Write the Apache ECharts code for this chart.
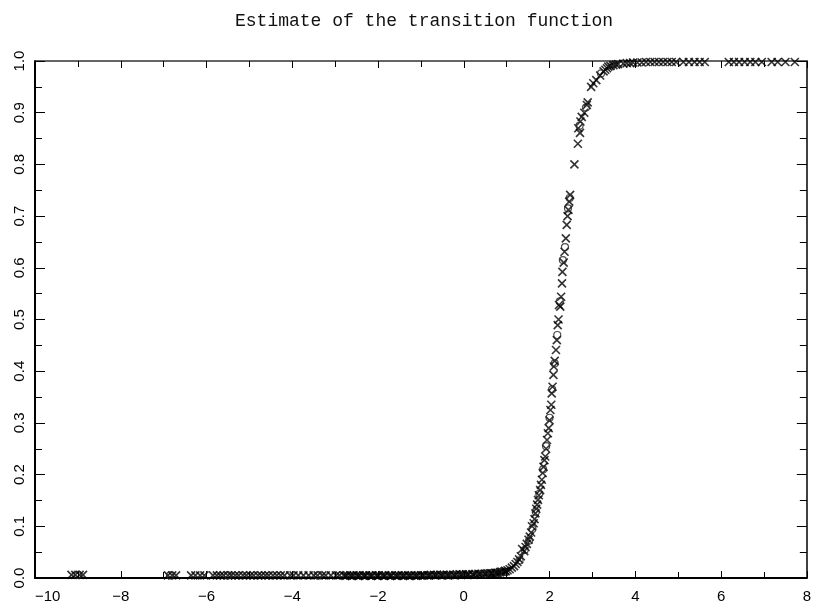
<!DOCTYPE html>
<html>
<head>
<meta charset="utf-8">
<script src="https://cdn.jsdelivr.net/npm/echarts@6/dist/echarts.min.js"></script>
<style>html,body{margin:0;padding:0;background:#fff}#c{width:814px;height:612px}</style>
</head>
<body>
<div id="c"></div>
<script>
// ---- data ----
const titleText = "Estimate of the transition function";
const xTicks = [-10, -8, -6, -4, -2, 0, 2, 4, 6, 8];
const yTicks = [0.0, 0.1, 0.2, 0.3, 0.4, 0.5, 0.6, 0.7, 0.8, 0.9, 1.0];

// flat part of the estimate (near zero)
const flatX = [-9.15,-9.06,-8.96,-8.88,-6.9,-6.8,-6.71,-6.36,-6.26,-6.15,-6.05,
  -5.85,-5.76,-5.68,-5.6,-5.5,-5.42,-5.33,-5.25,-5.15,-5.07,-4.98,-4.9,-4.8,-4.72,-4.63,-4.55,
  -4.45,-4.36,-4.27,-4.18,-4.05,-3.97,-3.86,-3.74,-3.62,-3.5,-3.41,-3.3,-3.22,-3.1,-2.98,-2.9,
  -2.8,-2.72,-2.65,-2.57,-2.5,-2.43,-2.35,-2.28,-2.2,-2.13,-2.05,-1.98,-1.9,-1.83,-1.75,-1.68,
  -1.6,-1.52,-1.45,-1.37,-1.3,-1.22,-1.15,-1.07,-1.0,-0.92,-0.85,-0.77,-0.7,-0.62,-0.55,-0.47,
  -0.4,-0.32,-0.25,-0.17,-0.1,-0.02,0.05,0.12,0.2,0.27,0.34,0.41,0.48,0.55,0.61,0.67,0.73,
  0.79,0.84,0.89,0.94,0.98];
const flatY = [0.006,0.006,0.006,0.006,0.005,0.005,0.005,0.005,0.005,0.005,0.005,
  0.005,0.005,0.005,0.005,0.005,0.005,0.005,0.005,0.005,0.005,0.005,0.005,0.005,0.005,0.005,0.005,
  0.005,0.005,0.005,0.005,0.005,0.005,0.005,0.005,0.005,0.005,0.005,0.005,0.005,0.005,0.005,0.005,
  0.005,0.005,0.005,0.005,0.005,0.005,0.005,0.005,0.005,0.005,0.005,0.005,0.005,0.005,0.005,0.005,
  0.005,0.005,0.005,0.005,0.005,0.005,0.005,0.005,0.005,0.005,0.005,0.006,0.006,0.006,0.006,0.006,
  0.006,0.006,0.006,0.007,0.007,0.007,0.007,0.007,0.007,0.008,0.008,0.008,0.008,0.009,0.009,0.009,0.010,
  0.010,0.011,0.012,0.012,0.013];
// extra estimates in the densest stretch of the flat part
const flatX2 = [-2.76,-2.61,-2.46,-2.31,-2.16,-2.01,-1.86,-1.71,-1.56,-1.41,-1.26,-1.11,-0.96,-0.81,
  -0.66,-0.51,-0.36,-0.21,-0.06,0.09,0.23,0.37,0.51,0.64,0.76,0.86,0.96];
const flatY2 = [0.004,0.004,0.004,0.004,0.004,0.004,0.004,0.004,0.004,0.004,0.004,0.004,0.005,0.005,
  0.005,0.005,0.005,0.005,0.006,0.006,0.006,0.007,0.008,0.009,0.010,0.012,0.014];

// rising part of the estimate
const riseX = [1.02,1.07,1.12,1.17,1.21,1.25,1.29,1.33,1.36,1.41,1.44,1.47,1.51,1.54,1.57,1.59,
  1.63,1.65,1.67,1.69,1.71,1.73,1.75,1.78,1.8,1.82,1.84,1.86,1.88,1.9,1.92,1.94,1.96,1.98,2.0,
  2.02,2.04,2.05,2.07,2.09,2.1,2.12,2.15,2.17,2.19,2.21,2.22,2.25,2.27,2.29,2.3,2.33,2.35,2.38,
  2.4,2.42,2.44,2.46,2.48,2.58,2.66,2.67,2.71,2.72,2.75,2.81,2.87,2.89,2.97,3.02,3.09,3.18,3.26,
  3.3,3.34,3.37,3.42,3.49,3.55,3.6];
const riseY = [0.015,0.017,0.02,0.023,0.027,0.031,0.036,0.042,0.056,0.052,0.06,0.066,0.074,0.08,0.088,0.1,
  0.106,0.114,0.125,0.134,0.142,0.151,0.16,0.17,0.18,0.19,0.203,0.215,0.228,0.235,0.25,0.267,0.28,0.29,0.305,
  0.325,0.335,0.357,0.37,0.393,0.409,0.42,0.441,0.46,0.489,0.5,0.528,0.525,0.544,0.57,0.592,0.61,0.631,0.657,
  0.683,0.7,0.712,0.728,0.741,0.8,0.84,0.87,0.861,0.883,0.892,0.9,0.915,0.92,0.95,0.957,0.963,0.972,0.98,
  0.983,0.986,0.989,0.99,0.992,0.993,0.994];

// upper plateau
const topX = [3.72,3.8,3.88,3.95,4.05,4.15,4.25,4.35,4.45,4.55,4.65,4.75,4.85,4.95,5.12,5.25,5.38,
  5.5,5.62,6.18,6.3,6.42,6.55,6.68,6.8,6.95,7.18,7.32,7.5,7.72];
const topY = [0.995,0.996,0.996,0.997,0.997,0.997,0.998,0.998,0.998,0.998,0.998,0.998,0.998,0.998,0.998,
  0.998,0.998,0.998,0.998,0.998,0.998,0.998,0.998,0.998,0.998,0.998,0.998,0.998,0.998,0.998];

// second marker type (circles) seen along the curve
const circX = [1.3,1.42,1.52,1.6,1.68,1.76,1.85,1.92,2.0,2.06,2.12,2.18,2.24,2.31,2.36,2.43,2.47,2.7,2.85,3.2,3.45,0.5,0.8,-3.4,-5.5,-6.85,-9.0];
const circY = [0.034,0.054,0.072,0.095,0.128,0.163,0.21,0.255,0.31,0.365,0.415,0.47,0.535,0.615,0.64,0.715,0.735,0.875,0.91,0.976,0.991,0.008,0.01,0.005,0.005,0.005,0.006];

// ---- build chart ----
const zip = (xs, ys) => xs.map((x, i) => [x, ys[i]]);
const crossPts = zip(flatX, flatY).concat(zip(flatX2, flatY2), zip(riseX, riseY), zip(topX, topY));
const circPts = zip(circX, circY);

const minus = v => String(v).replace('-', '\u2212');
const FONT = 'Liberation Sans';
const xCommon = {
  type: 'value', min: xTicks[0], max: xTicks[xTicks.length - 1], interval: 2,
  axisLine: { show: true, onZero: false, lineStyle: { color: '#000', width: 2 } },
  axisTick: { show: true, inside: true, length: 7, lineStyle: { color: '#000', width: 1 } },
  minorTick: { show: true, splitNumber: 2, length: 6, lineStyle: { color: '#000', width: 1 } },
  splitLine: { show: false }
};
const yCommon = {
  type: 'value', min: yTicks[0], max: yTicks[yTicks.length - 1], interval: 0.1,
  axisLine: { show: true, onZero: false, lineStyle: { color: '#000', width: 2 } },
  axisTick: { show: true, inside: true, length: 10, lineStyle: { color: '#000', width: 1 } },
  minorTick: { show: true, splitNumber: 2, length: 7, lineStyle: { color: '#000', width: 1 } },
  splitLine: { show: false }
};

const chart = echarts.init(document.getElementById('c'), null, { renderer: 'canvas' });
chart.setOption({
  animation: false,
  backgroundColor: '#fff',
  title: {
    text: titleText, left: 230, top: 7,
    textStyle: { fontFamily: 'Liberation Mono', fontSize: 18, fontWeight: 'normal', color: '#111' }
  },
  grid: { left: 35, right: 5, top: 61, bottom: 34 },
  xAxis: [
    Object.assign({}, xCommon, {
      position: 'bottom',
      axisLabel: { show: true, margin: 11, color: '#000', fontFamily: FONT, fontSize: 15,
        alignMinLabel: 'left', formatter: v => minus(v) }
    }),
    Object.assign({}, xCommon, {
      position: 'top',
      axisLine: { show: true, onZero: false, lineStyle: { color: '#333', width: 1.5 } },
      axisLabel: { show: false }
    })
  ],
  yAxis: [
    Object.assign({}, yCommon, {
      position: 'left',
      axisLabel: { show: true, rotate: 90, margin: 8, color: '#000', fontFamily: FONT, fontSize: 15,
        formatter: v => v.toFixed(1) }
    }),
    Object.assign({}, yCommon, {
      position: 'right',
      axisLine: { show: true, onZero: false, lineStyle: { color: '#000', width: 1.5 } },
      axisLabel: { show: false }
    })
  ],
  series: [
    {
      type: 'scatter', xAxisIndex: 0, yAxisIndex: 0, clip: false,
      symbol: 'path://M0,0L10,10M10,0L0,10', symbolSize: 8,
      itemStyle: { color: 'rgba(0,0,0,0)', borderColor: '#000', borderWidth: 1.6 },
      data: crossPts
    },
    {
      type: 'scatter', xAxisIndex: 0, yAxisIndex: 0, clip: false,
      symbol: 'circle', symbolSize: 7,
      itemStyle: { color: 'rgba(0,0,0,0)', borderColor: '#222', borderWidth: 1.2 },
      data: circPts
    }
  ]
});
</script>
</body>
</html>
